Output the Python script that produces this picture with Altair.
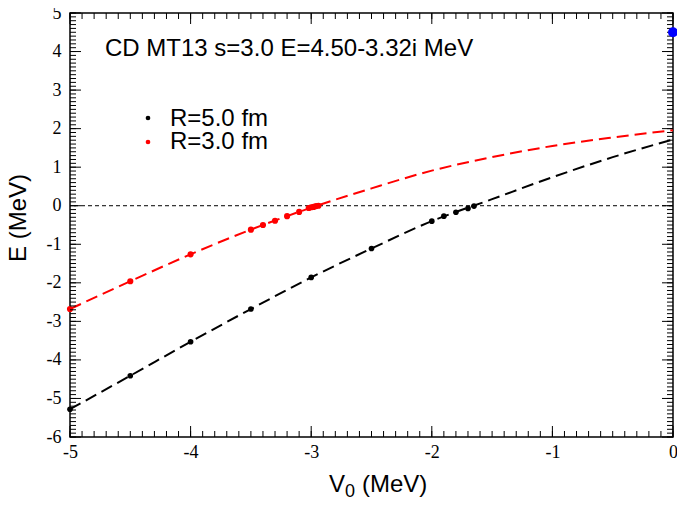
import altair as alt
import pandas as pd

# ---- data ----
black_pts_v = [-5.0, -4.5, -4.0, -3.5, -3.0, -2.5, -2.0, -1.9, -1.8, -1.7, -1.65]
black_pts_e = [-5.28, -4.41, -3.53, -2.68, -1.86, -1.11, -0.40, -0.27, -0.17, -0.07, -0.01]

red_pts_v = [-5.0, -4.5, -4.0, -3.5, -3.4, -3.3, -3.2, -3.1, -3.02, -3.0, -2.98, -2.96, -2.94]
red_pts_e = [-2.68, -1.96, -1.26, -0.62, -0.50, -0.39, -0.27, -0.16, -0.06, -0.04, -0.03, -0.01, 0.0]

line_v = [-5.0, -4.5, -4.0, -3.5, -3.0, -2.5, -2.0, -1.5, -1.0, -0.5, 0.0]
black_line_e = [-5.28, -4.41, -3.53, -2.68, -1.86, -1.11, -0.40, 0.17, 0.74, 1.26, 1.72]
red_line_e = [-2.68, -1.96, -1.26, -0.62, -0.05, 0.45, 0.91, 1.26, 1.55, 1.77, 1.96]

blue_v = [0.0]
blue_e = [4.5]

x_major = [-5, -4, -3, -2, -1, 0]
y_major = [-6, -5, -4, -3, -2, -1, 0, 1, 2, 3, 4, 5]
x_minor = [round(-5 + 0.1 * i, 1) for i in range(51)]
y_minor = [round(-6 + 0.1 * i, 1) for i in range(111)]

title_text = "CD MT13 s=3.0 E=4.50-3.32i MeV"
legend_labels = ["R=5.0 fm", "R=3.0 fm"]
legend_colors = ["black", "red"]

W, H = 603, 424
SANS = "Liberation Sans"
SERIF = "Liberation Serif"

xs = alt.Scale(domain=[-5, 0], nice=False, zero=False)
ys = alt.Scale(domain=[-6, 5], nice=False, zero=False)

xax = alt.Axis(values=x_major, title=None, domain=False, ticks=False, grid=False,
               labelFont=SERIF, labelFontSize=18, labelColor="black", labelPadding=6,
               labelFlush=False, labelExpr="'' + datum.value")
yax = alt.Axis(values=y_major, title=None, domain=False, ticks=False, grid=False,
               labelFont=SERIF, labelFontSize=18, labelColor="black", labelPadding=9,
               labelFlush=False, labelExpr="'' + datum.value")

X = alt.X("v:Q", scale=xs, axis=xax)
Y = alt.Y("e:Q", scale=ys, axis=yax)

black_line = alt.Chart(pd.DataFrame({"v": line_v, "e": black_line_e})).mark_line(
    color="black", strokeWidth=2, strokeDash=[12, 6], interpolate="monotone"
).encode(x=X, y=Y)
red_line = alt.Chart(pd.DataFrame({"v": line_v, "e": red_line_e})).mark_line(
    color="red", strokeWidth=2, strokeDash=[12, 6], interpolate="monotone"
).encode(x=X, y=Y)

zero_line = alt.Chart(pd.DataFrame({"e": [0]})).mark_rule(
    color="black", strokeWidth=1, strokeDash=[4, 3]
).encode(y=Y)

black_pts = alt.Chart(pd.DataFrame({"v": black_pts_v, "e": black_pts_e})).mark_circle(
    color="black", size=32, opacity=1
).encode(x=X, y=Y)
red_pts = alt.Chart(pd.DataFrame({"v": red_pts_v, "e": red_pts_e})).mark_circle(
    color="red", size=38, opacity=1
).encode(x=X, y=Y)
blue_pt = alt.Chart(pd.DataFrame({"v": blue_v, "e": blue_e})).mark_circle(
    color="#0000ff", size=100, opacity=1, clip=False
).encode(x=X, y=Y)


def xticks(vals, length):
    d = pd.DataFrame({"v": vals})
    bot = alt.Chart(d).mark_rule(color="black", strokeWidth=1).encode(
        x=X, y=alt.value(H), y2=alt.value(H - length))
    top = alt.Chart(d).mark_rule(color="black", strokeWidth=1).encode(
        x=X, y=alt.value(0), y2=alt.value(length))
    return [bot, top]


def yticks(vals, length):
    d = pd.DataFrame({"e": vals})
    left = alt.Chart(d).mark_rule(color="black", strokeWidth=1).encode(
        y=Y, x=alt.value(0), x2=alt.value(length))
    right = alt.Chart(d).mark_rule(color="black", strokeWidth=1).encode(
        y=Y, x=alt.value(W), x2=alt.value(W - length))
    return [left, right]


ticks = xticks(x_minor, 6) + xticks(x_major, 11) + yticks(y_minor, 6) + yticks(y_major, 11)


def label(txt, x, y, size=24, **kw):
    return alt.Chart(pd.DataFrame({"t": [txt]})).mark_text(
        font=SANS, fontSize=size, baseline="middle", color="black", **kw
    ).encode(x=alt.value(x), y=alt.value(y), text="t:N")


def dot(col, x, y):
    return alt.Chart(pd.DataFrame({"c": [col]})).mark_circle(
        size=22, opacity=1, color=col
    ).encode(x=alt.value(x), y=alt.value(y))


texts = [
    label(title_text, 35, 36, align="left"),
    dot(legend_colors[0], 78, 105),
    dot(legend_colors[1], 78, 129),
    label(legend_labels[0], 100, 106, align="left"),
    label(legend_labels[1], 100, 129, align="left"),
    label("E (MeV)", -51, 205, angle=270, align="center"),
    label("V", 259, 472, align="left"),
    label("0", 275, 479, size=18, align="left"),
    label("(MeV)", 292, 472, align="left"),
]

chart = alt.layer(
    zero_line, black_line, red_line, black_pts, red_pts, *ticks, *texts, blue_pt,
).properties(
    width=W, height=H,
    autosize=alt.AutoSizeParams(type="none"),
    padding={"left": 62, "top": 5, "right": 4, "bottom": 63},
).configure_view(
    stroke="black", strokeWidth=1.5
).configure_axis(grid=False)

chart.save("out.html", embed_options={"renderer": "svg", "actions": False})
